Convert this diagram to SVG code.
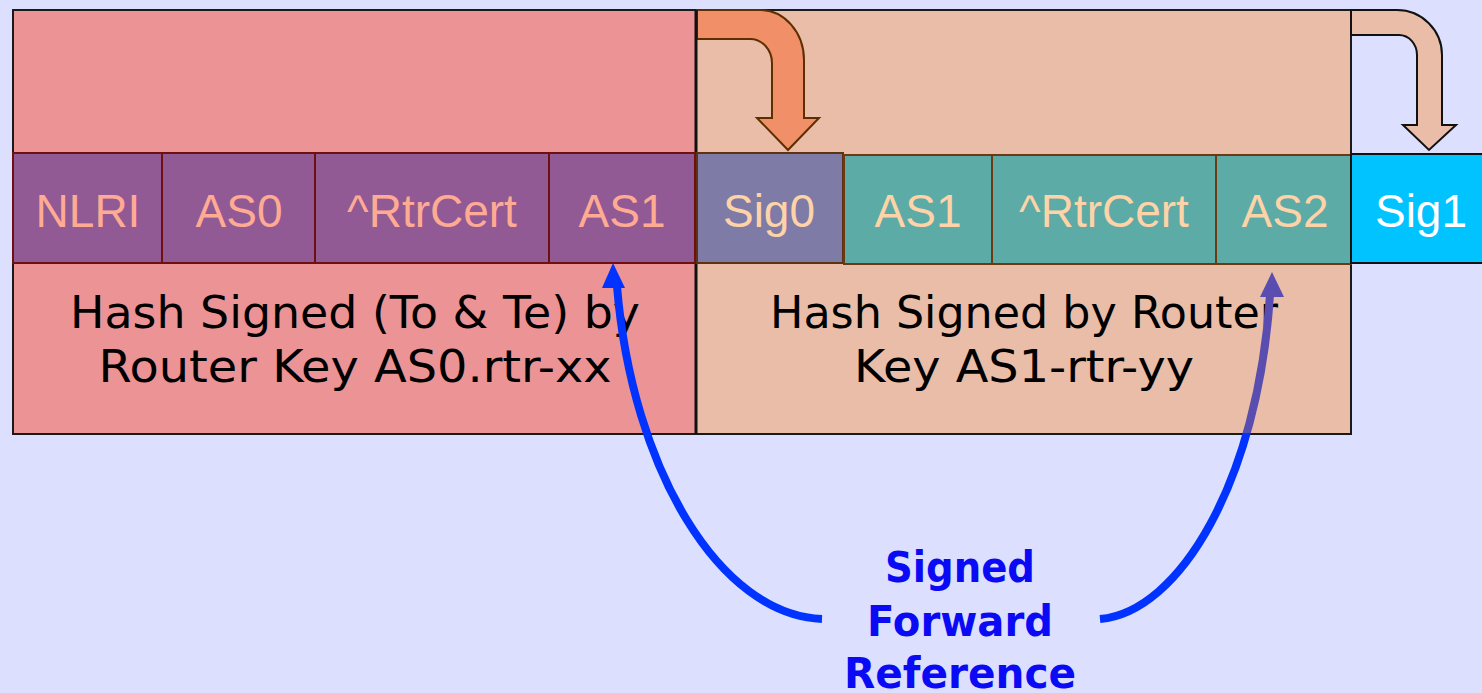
<svg xmlns="http://www.w3.org/2000/svg" width="1482" height="693" viewBox="0 0 1482 693">
<style>
.cellL{fill:#915A94;stroke:#6E1010;stroke-width:2}
.cellT{fill:#5CABA6;stroke:#6B3A10;stroke-width:2}
.ct{font-family:"Liberation Sans",Arial,sans-serif;font-size:46px;text-anchor:middle}
.ctL{fill:#FFAB94}
.ctR{fill:#FFD3A8}
.ht{font-family:"DejaVu Sans","Noto Sans",sans-serif;font-size:44px;fill:#000;text-anchor:middle}
.lbl{font-family:"DejaVu Sans","Noto Sans",sans-serif;font-weight:bold;font-size:42px;fill:#0A0AF5;text-anchor:middle}
</style>
<defs>
<linearGradient id="rg" gradientUnits="userSpaceOnUse" x1="0" y1="272" x2="0" y2="619">
<stop offset="0" stop-color="#5A4DB0"/>
<stop offset="0.4640" stop-color="#5A4DB0"/>
<stop offset="0.4641" stop-color="#0033FF"/>
<stop offset="1" stop-color="#0033FF"/>
</linearGradient>
</defs>
<rect x="0" y="0" width="1482" height="693" fill="#DCDFFE"/>

<g id="block0">
<rect x="13" y="10" width="683" height="424" fill="#EC9396" stroke="#1a1a1a" stroke-width="2"/>
<text class="ht" x="355" y="328" textLength="570" lengthAdjust="spacingAndGlyphs">Hash Signed (To &amp; Te) by</text>
<text class="ht" x="355" y="382" textLength="513" lengthAdjust="spacingAndGlyphs">Router Key AS0.rtr-xx</text>
</g>
<g id="block1">
<rect x="696" y="10" width="655" height="424" fill="#EABDA8" stroke="#1a1a1a" stroke-width="2"/>
<text class="ht" x="1024" y="328" textLength="508" lengthAdjust="spacingAndGlyphs">Hash Signed by Router</text>
<text class="ht" x="1024" y="382" textLength="340" lengthAdjust="spacingAndGlyphs">Key AS1-rtr-yy</text>
</g>

<g id="arrow-sig0">
<path d="M697 10 L760 10 A44 50 0 0 1 804 60 L804 118 L819 118 L788 150 L757 118 L772 118 L772 63 A22 24 0 0 0 750 39 L697 39 Z" fill="#F08F68" stroke="#5C2E00" stroke-width="2"/>
</g>
<g id="arrow-sig1">
<path d="M1351 10 L1397 10 A45 45 0 0 1 1442 55 L1442 125 L1456 125 L1429 150 L1403 125 L1417 125 L1417 55 A18 20 0 0 0 1399 35 L1351 35 Z" fill="#EABDA8" stroke="#111" stroke-width="2"/>
</g>
<line x1="696" y1="10" x2="696" y2="434" stroke="#111" stroke-width="3"/>

<g id="cell-nlri"><rect class="cellL" x="13" y="153" width="149" height="110"/><text class="ct ctL" x="88" y="227">NLRI</text></g>
<g id="cell-as0"><rect class="cellL" x="162" y="153" width="153" height="110"/><text class="ct ctL" x="239" y="227">AS0</text></g>
<g id="cell-rtrcert0"><rect class="cellL" x="315" y="153" width="234" height="110"/><text class="ct ctL" x="432" y="227">^RtrCert</text></g>
<g id="cell-as1a"><rect class="cellL" x="549" y="153" width="146" height="110"/><text class="ct ctL" x="622" y="227">AS1</text></g>
<g id="cell-sig0"><rect x="697" y="153" width="146" height="110" fill="#7F7BA7" stroke="#5C3210" stroke-width="2"/><text class="ct ctR" x="769" y="227">Sig0</text></g>
<g id="cell-as1b"><rect class="cellT" x="844" y="155" width="148" height="109"/><text class="ct ctR" x="918" y="227">AS1</text></g>
<g id="cell-rtrcert1"><rect class="cellT" x="992" y="155" width="224" height="109"/><text class="ct ctR" x="1104" y="227">^RtrCert</text></g>
<g id="cell-as2"><rect class="cellT" x="1216" y="155" width="135" height="109"/><text class="ct ctR" x="1285" y="227">AS2</text></g>
<g id="cell-sig1"><rect x="1351" y="154" width="140" height="109" fill="#00C3FF" stroke="#111" stroke-width="2"/><text class="ct" fill="#FFFFFF" x="1421" y="227">Sig1</text></g>

<g id="connectors">
<path d="M617 286 C632 470 720 615 822 619" fill="none" stroke="#0033FF" stroke-width="8"/>
<polygon points="613,263 625,288 602,288" fill="#0033FF"/>
<path d="M1100 619 C1180 612 1258 480 1270 295" fill="none" stroke="url(#rg)" stroke-width="8"/>
<polygon points="1272,272 1284,297 1260,297" fill="#5A4DB0"/>
</g>

<g id="label">
<text class="lbl" x="960" y="582" textLength="150" lengthAdjust="spacingAndGlyphs">Signed</text>
<text class="lbl" x="960" y="636" textLength="186" lengthAdjust="spacingAndGlyphs">Forward</text>
<text class="lbl" x="960" y="688" textLength="232" lengthAdjust="spacingAndGlyphs">Reference</text>
</g>
</svg>
